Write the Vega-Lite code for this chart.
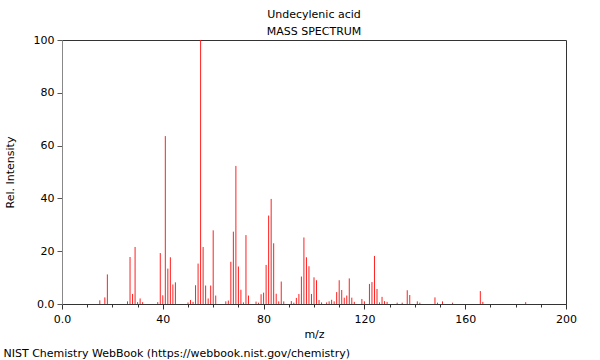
{
  "$schema": "https://vega.github.io/schema/vega-lite/v6.json",
  "width": 504,
  "height": 264,
  "autosize": {"type": "none"},
  "padding": {"left": 62, "top": 40, "right": 34, "bottom": 56},
  "background": "white",
  "title": {"text": ["Undecylenic acid", "MASS SPECTRUM"], "fontSize": 11, "fontWeight": "normal", "font": "DejaVu Sans", "lineHeight": 17, "offset": -3, "anchor": "middle", "color": "black"},
  "config": {"view": {"stroke": "#333", "strokeWidth": 1}, "font": "DejaVu Sans"},
  "data": {"values": [
    {"mz": 15, "intensity": 1.4}, {"mz": 17, "intensity": 2.5}, {"mz": 18, "intensity": 11.2},
    {"mz": 26, "intensity": 1.0}, {"mz": 27, "intensity": 17.8}, {"mz": 28, "intensity": 3.8}, {"mz": 29, "intensity": 21.6},
    {"mz": 30, "intensity": 0.7}, {"mz": 31, "intensity": 2.1}, {"mz": 32, "intensity": 0.7}, {"mz": 38, "intensity": 0.7},
    {"mz": 39, "intensity": 19.3}, {"mz": 40, "intensity": 3.3}, {"mz": 41, "intensity": 63.6}, {"mz": 42, "intensity": 13.4},
    {"mz": 43, "intensity": 17.7}, {"mz": 44, "intensity": 7.4}, {"mz": 45, "intensity": 8.2},
    {"mz": 50, "intensity": 0.6}, {"mz": 51, "intensity": 1.5}, {"mz": 52, "intensity": 0.8}, {"mz": 53, "intensity": 7.1},
    {"mz": 54, "intensity": 15.3}, {"mz": 55, "intensity": 100}, {"mz": 56, "intensity": 21.6}, {"mz": 57, "intensity": 7.0},
    {"mz": 58, "intensity": 2.1}, {"mz": 59, "intensity": 7.0}, {"mz": 60, "intensity": 27.9}, {"mz": 61, "intensity": 3.2},
    {"mz": 65, "intensity": 1.0}, {"mz": 66, "intensity": 1.3}, {"mz": 67, "intensity": 16.0}, {"mz": 68, "intensity": 27.4},
    {"mz": 69, "intensity": 52.3}, {"mz": 70, "intensity": 14.2}, {"mz": 71, "intensity": 5.4}, {"mz": 72, "intensity": 0.6},
    {"mz": 73, "intensity": 26.1}, {"mz": 74, "intensity": 3.2}, {"mz": 77, "intensity": 0.9}, {"mz": 78, "intensity": 0.5},
    {"mz": 79, "intensity": 3.7}, {"mz": 80, "intensity": 4.3}, {"mz": 81, "intensity": 14.8}, {"mz": 82, "intensity": 33.5},
    {"mz": 83, "intensity": 39.8}, {"mz": 84, "intensity": 23.0}, {"mz": 85, "intensity": 3.9}, {"mz": 86, "intensity": 1.0},
    {"mz": 87, "intensity": 8.5}, {"mz": 88, "intensity": 1.0}, {"mz": 91, "intensity": 1.1}, {"mz": 92, "intensity": 0.5},
    {"mz": 93, "intensity": 2.3}, {"mz": 94, "intensity": 3.8}, {"mz": 95, "intensity": 10.4}, {"mz": 96, "intensity": 25.2},
    {"mz": 97, "intensity": 17.7}, {"mz": 98, "intensity": 14.3}, {"mz": 99, "intensity": 3.8}, {"mz": 100, "intensity": 10.1},
    {"mz": 101, "intensity": 9.0}, {"mz": 102, "intensity": 1.5}, {"mz": 103, "intensity": 0.6}, {"mz": 105, "intensity": 0.6},
    {"mz": 106, "intensity": 1.0}, {"mz": 107, "intensity": 1.6}, {"mz": 108, "intensity": 1.0}, {"mz": 109, "intensity": 4.5},
    {"mz": 110, "intensity": 9.0}, {"mz": 111, "intensity": 5.3}, {"mz": 112, "intensity": 2.4}, {"mz": 113, "intensity": 3.2},
    {"mz": 114, "intensity": 9.7}, {"mz": 115, "intensity": 2.4}, {"mz": 116, "intensity": 0.8}, {"mz": 119, "intensity": 1.9},
    {"mz": 120, "intensity": 1.0}, {"mz": 122, "intensity": 7.6}, {"mz": 123, "intensity": 8.3}, {"mz": 124, "intensity": 18.2},
    {"mz": 125, "intensity": 5.7}, {"mz": 126, "intensity": 0.6}, {"mz": 127, "intensity": 2.7}, {"mz": 128, "intensity": 1.1},
    {"mz": 129, "intensity": 0.8}, {"mz": 133, "intensity": 0.5}, {"mz": 135, "intensity": 0.5}, {"mz": 137, "intensity": 5.2},
    {"mz": 138, "intensity": 3.4}, {"mz": 141, "intensity": 1.0}, {"mz": 142, "intensity": 0.5}, {"mz": 148, "intensity": 2.5},
    {"mz": 149, "intensity": 0.5}, {"mz": 151, "intensity": 1.0}, {"mz": 155, "intensity": 0.5}, {"mz": 166, "intensity": 4.9},
    {"mz": 167, "intensity": 0.8}, {"mz": 184, "intensity": 0.7}
  ]},
  "layer": [
    {
      "mark": {"type": "rule", "color": "#ff2020", "strokeWidth": 1},
      "encoding": {
        "x": {"field": "mz", "type": "quantitative", "scale": {"domain": [0, 200], "nice": false},
          "axis": {"title": "m/z", "values": [0,10,20,30,40,50,60,70,80,90,100,110,120,130,140,150,160,170,180,190,200],
            "labelExpr": "datum.value == 0 ? '0.0' : (datum.value % 40 == 0 ? datum.label : '')",
            "tickSize": {"condition": {"test": "datum.value % 40 == 0", "value": 5}, "value": 3},
            "grid": false, "domainColor": "#333", "tickColor": "#333", "labelColor": "black", "labelFontSize": 11, "labelFont": "DejaVu Sans",
            "titleFontSize": 11, "titleFontWeight": "normal", "titleFont": "DejaVu Sans", "titleColor": "black", "labelPadding": 4, "titlePadding": 4, "labelOverlap": false, "labelFlush": false}},
        "y": {"field": "intensity", "type": "quantitative", "scale": {"domain": [0, 100], "nice": false},
          "axis": {"title": "Rel. Intensity", "values": [0,5,10,15,20,25,30,35,40,45,50,55,60,65,70,75,80,85,90,95,100],
            "labelExpr": "datum.value == 0 ? '0.0' : (datum.value % 20 == 0 ? datum.label : '')",
            "tickSize": {"condition": {"test": "datum.value % 20 == 0", "value": 5}, "value": 3},
            "grid": false, "domainColor": "#888", "tickColor": "#555", "labelColor": "black", "labelFontSize": 11, "labelFont": "DejaVu Sans",
            "titleFontSize": 11, "titleFontWeight": "normal", "titleFont": "DejaVu Sans", "titleColor": "black", "labelPadding": 3, "titlePadding": 18, "labelOverlap": false, "labelFlush": false}},
        "y2": {"datum": 0}
      }
    },
    {
      "mark": {"type": "rule", "opacity": 0},
      "encoding": {
        "x": {"field": "mz", "type": "quantitative", "scale": {"domain": [0, 200], "nice": false},
          "axis": {"orient": "bottom", "domain": false, "ticks": false, "labels": false, "grid": false,
            "title": "NIST Chemistry WebBook (https://webbook.nist.gov/chemistry)", "titleAnchor": "start", "titleAlign": "left", "titleX": -59,
            "titleFontSize": 11, "titleFontWeight": "normal", "titleFont": "DejaVu Sans", "titleColor": "black", "titlePadding": 43}},
        "y": {"field": "intensity", "type": "quantitative"},
        "y2": {"datum": 0}
      }
    }
  ],
  "resolve": {"axis": {"x": "independent"}}
}
